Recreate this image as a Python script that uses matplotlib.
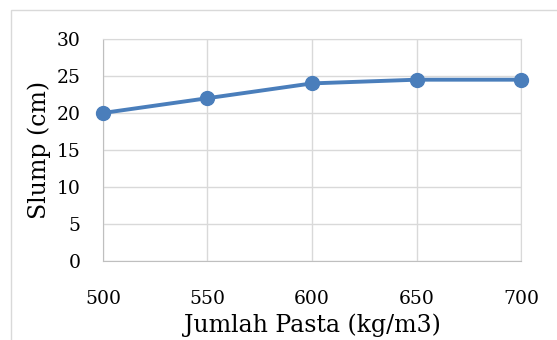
import matplotlib.pyplot as plt
from matplotlib.patches import Rectangle

# data
pasta = [500, 550, 600, 650, 700]
slump = [20, 22, 24, 24.5, 24.5]
yticks = [0, 5, 10, 15, 20, 25, 30]

plt.rcParams['font.family'] = ['DejaVu Serif']

fig = plt.figure(figsize=(5.57, 3.4), dpi=100)
ax = fig.add_axes([0.1849, 0.2324, 0.7505, 0.6529])

# chart border (cut off at right and bottom like the original)
fig.patches.append(Rectangle((11/557, -0.1), 1.2, 1 - 10/340 + 0.1, transform=fig.transFigure,
                             fill=False, edgecolor='#D9D9D9', linewidth=1))

ax.plot(pasta, slump, color='#4A7EBB', linewidth=2.8, marker='o', markersize=10,
        clip_on=False, zorder=3)

ax.set_xlim(500, 700)
ax.set_ylim(0, 30)
ax.set_xticks(pasta)
ax.set_yticks(yticks)
ax.grid(True, color='#D9D9D9', linewidth=1)
ax.set_axisbelow(True)
for s in ['top', 'right']:
    ax.spines[s].set_color('#D9D9D9')
for s in ['left', 'bottom']:
    ax.spines[s].set_color('#BFBFBF')
ax.tick_params(length=0, labelsize=13.5)
ax.tick_params(axis='y', pad=16)
ax.tick_params(axis='x', pad=21)

ax.set_xlabel('Jumlah Pasta (kg/m3)', fontsize=17, labelpad=4)
ax.set_ylabel('Slump (cm)', fontsize=17, labelpad=4)

fig.savefig('out.png', dpi=100)
